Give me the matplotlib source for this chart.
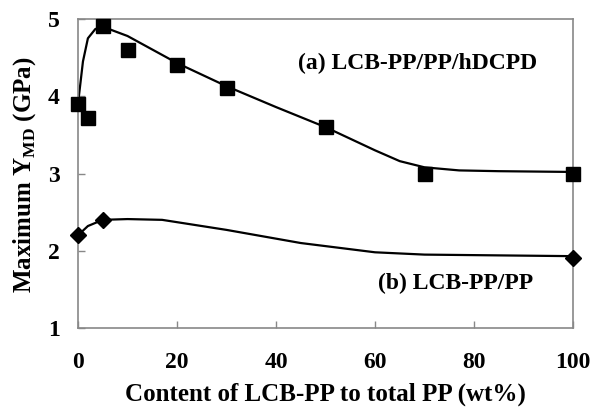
import matplotlib
matplotlib.use("Agg")
import matplotlib.pyplot as plt

# measured data (a) LCB-PP/PP/hDCPD
xa = [0, 2, 5, 10, 20, 30, 50, 70, 100]
ya = [3.9, 3.72, 4.91, 4.6, 4.4, 4.11, 3.6, 3.0, 3.0]
# smooth trend line (a)
xa_fit = [0, 1, 2, 3.5, 5, 10, 20, 30, 40, 50, 60, 65, 70, 77, 85, 100]
ya_fit = [3.9, 4.45, 4.75, 4.87, 4.9, 4.78, 4.43, 4.13, 3.86, 3.6, 3.3, 3.16, 3.08, 3.04, 3.03, 3.02]

# measured data (b) LCB-PP/PP
xb = [0, 5, 100]
yb = [2.2, 2.4, 1.91]
xb_fit = [0, 2, 5, 10, 17, 30, 45, 55, 60, 70, 85, 100]
yb_fit = [2.2, 2.32, 2.4, 2.41, 2.4, 2.27, 2.1, 2.02, 1.98, 1.95, 1.94, 1.93]

xticks = [0, 20, 40, 60, 80, 100]
yticks = [1, 2, 3, 4, 5]

plt.rcParams['font.family'] = ['Liberation Serif', 'DejaVu Serif']
plt.rcParams['mathtext.fontset'] = 'custom'
plt.rcParams['mathtext.rm'] = 'Liberation Serif:bold'
plt.rcParams['mathtext.bf'] = 'Liberation Serif:bold'

fig = plt.figure(figsize=(5.91, 4.07), dpi=100)
ax = fig.add_axes([78/591, 1-328/407, (573-78)/591, (328-19)/407])

ax.plot(xa_fit, ya_fit, color='black', lw=1.6, zorder=2)
ax.plot(xa, ya, ls='none', marker='s', ms=10, color='black', zorder=3, clip_on=False)
ax.plot(xb_fit, yb_fit, color='black', lw=1.6, zorder=2)
ax.plot(xb, yb, ls='none', marker='D', ms=8, color='black', zorder=3, clip_on=False)

ax.set_xlim(0, 100)
ax.set_ylim(1, 5)
ax.set_xticks(xticks)
ax.set_yticks(yticks)
ax.set_xticklabels([str(t) for t in xticks], fontsize=17, fontweight='bold')
ax.set_yticklabels([str(t) for t in yticks], fontsize=17, fontweight='bold')
ax.tick_params(direction='in', length=5, width=1, color='#888888')
ax.tick_params(axis='x', pad=17)
ax.tick_params(axis='y', pad=13)
for s in ax.spines.values():
    s.set_color('#888888')
    s.set_linewidth(1.2)

ax.set_xlabel('Content of LCB-PP to total PP (wt%)', fontsize=18, fontweight='bold')
ax.xaxis.label.set_va('center')
ax.xaxis.set_label_coords(0.5, (328-394)/309)
ax.set_ylabel(r'Maximum Y$_{\mathrm{MD}}$ (GPa)', fontsize=18, fontweight='bold')
ax.yaxis.label.set_va('center')
ax.yaxis.set_label_coords((25-78)/495, 0.495)

ax.text(44.4, 4.43, '(a) LCB-PP/PP/hDCPD', fontsize=17, fontweight='bold', va='center', ha='left')
ax.text(60.6, 1.58, '(b) LCB-PP/PP', fontsize=17, fontweight='bold', va='center', ha='left')

fig.savefig('out.png', dpi=100)
